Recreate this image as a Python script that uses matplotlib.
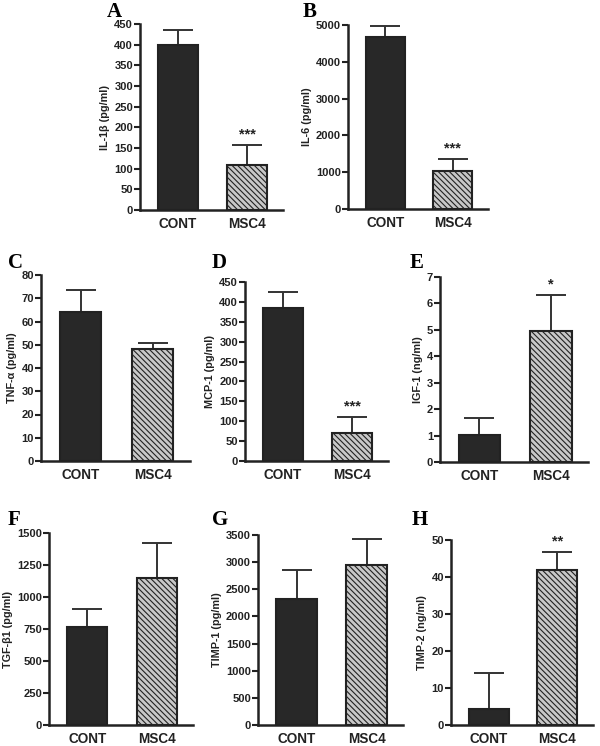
import matplotlib
matplotlib.use("Agg")
import matplotlib.pyplot as plt
import numpy as np

plt.rcParams['hatch.color'] = '#3a3a3a'
plt.rcParams['hatch.linewidth'] = 0.8

groups = ["CONT", "MSC4"]

panels = ["A", "B", "C", "D", "E", "F", "G", "H"]
ylabels = ["IL-1\u03b2 (pg/ml)", "IL-6 (pg/ml)", "TNF-\u03b1 (pg/ml)", "MCP-1 (pg/ml)",
           "IGF-1 (ng/ml)", "TGF-\u03b21 (pg/ml)", "TIMP-1 (pg/ml)", "TIMP-2 (ng/ml)"]
means_cont = [400, 4665, 64.2, 384, 1.03, 762, 2315, 4.2]
means_msc4 = [110, 1024, 48.3, 70, 4.95, 1148, 2941, 42.0]
err_cont = [35, 317, 9.3, 42, 0.65, 148, 534, 9.8]
err_msc4 = [48, 335, 2.5, 41, 1.37, 271, 491, 4.7]
ymax = [450, 5000, 80, 450, 7, 1500, 3500, 50]
ystep = [50, 1000, 10, 50, 1, 250, 500, 10]
stars = ["***", "***", "", "***", "*", "", "", "**"]

# axes boxes in pixels: left, right, top, bottom
boxes = [(140, 283, 24, 210), (348, 488, 25, 209),
         (41, 190, 275, 461), (245, 388, 282, 461), (440, 588, 277, 462),
         (49, 193, 533, 725), (258, 403, 535, 725), (451, 593, 540, 725)]
letter_pos = [(107, 17), (303, 17), (8, 268), (212, 268), (410, 268),
              (8, 525), (212, 525), (412, 525)]

W, H = 600, 746
fig = plt.figure(figsize=(W / 100, H / 100), dpi=100)
fig.patch.set_facecolor("white")

bold = dict(family="Liberation Sans", weight="bold")

for i in range(8):
    l, r, t, b = boxes[i]
    ax = fig.add_axes([l / W, 1 - b / H, (r - l) / W, (b - t) / H])
    x = np.arange(2)
    vals = [means_cont[i], means_msc4[i]]
    errs = [err_cont[i], err_msc4[i]]
    bars = ax.bar(x, vals, width=0.58, color=["#282828", "#c8c8c8"],
                  edgecolor="#222222", linewidth=1.5, zorder=2)
    bars[1].set_hatch("\\\\\\\\\\\\")
    ax.errorbar(x, vals, yerr=[[0, 0], errs], fmt="none", ecolor="#333333",
                elinewidth=1.4, capsize=11, capthick=1.4, zorder=1)
    ax.set_xlim(-0.55, 1.52)
    ax.set_ylim(0, ymax[i])
    ax.set_yticks(np.arange(0, ymax[i] + ystep[i] / 2, ystep[i]))
    ax.set_xticks(x)
    ax.set_xticklabels(groups, fontsize=9.8, **bold)
    ax.tick_params(axis="x", length=0, pad=5, colors="#222222")
    ax.tick_params(axis="y", length=4, width=1.5, pad=1, colors="#222222", labelsize=8)
    for lab in ax.get_yticklabels():
        lab.set_fontweight("bold")
        lab.set_family("Liberation Sans")
    ax.spines["top"].set_visible(False)
    ax.spines["right"].set_visible(False)
    for s in ("left", "bottom"):
        ax.spines[s].set_linewidth(1.8)
        ax.spines[s].set_color("#222222")
    ax.set_ylabel(ylabels[i], fontsize=7.8, labelpad=3, color="#222222", **bold)
    if stars[i]:
        ax.text(1, vals[1] + errs[1] + ymax[i] * 0.02, stars[i], ha="center", va="bottom",
                fontsize=10.5, color="#222222", **bold)
    lx, ly = letter_pos[i]
    fig.text(lx / W, 1 - ly / H, panels[i], fontsize=15, weight="bold",
             family="Liberation Serif", ha="left", va="baseline")

fig.savefig("out.png", dpi=100, facecolor="white")
